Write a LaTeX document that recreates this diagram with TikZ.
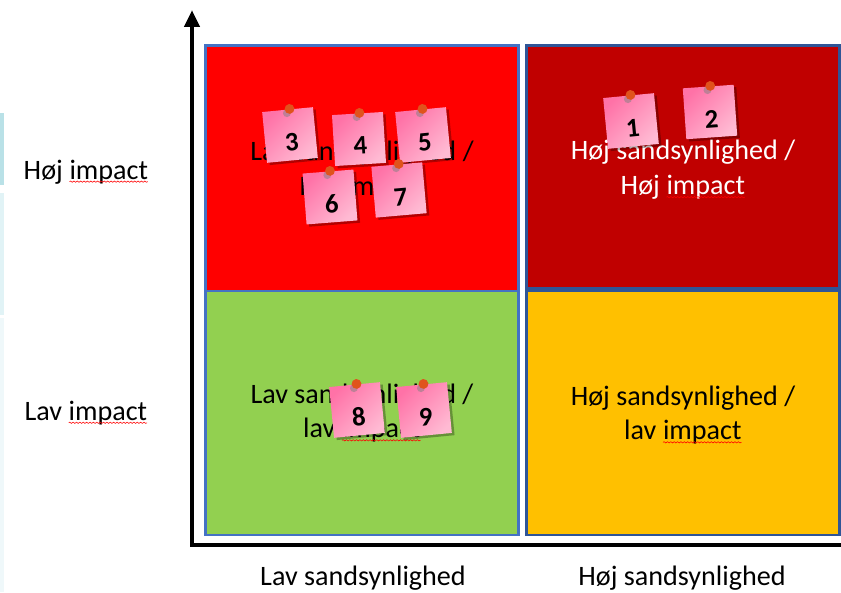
\documentclass[tikz,border=0pt]{standalone}
\usepackage{fontspec}
\setmainfont{Carlito}
\usetikzlibrary{arrows.meta, decorations.pathmorphing}

\definecolor{hotred}{HTML}{FF0000}
\definecolor{darkred}{HTML}{C00000}
\definecolor{lightgreen}{HTML}{92D050}
\definecolor{amber}{HTML}{FFC000}
\definecolor{edgeblue}{HTML}{4472C4}
\definecolor{edgenavy}{HTML}{2F5597}
\definecolor{notedark}{HTML}{FF72A7}
\definecolor{notelight}{HTML}{FFBAD3}
\definecolor{pinred}{HTML}{E0531C}
\definecolor{stripa}{HTML}{B9E1E7}
\definecolor{stripb}{HTML}{E1F3F6}
\definecolor{stripc}{HTML}{EFF8FA}

% red spell-check wave under a word
\newcommand{\wavy}[1]{\tikz[baseline=(w.base)]{\node[inner sep=0pt,outer sep=0pt] (w) {#1};
  \draw[red, line width=.4pt, decorate, decoration={snake, amplitude=.45pt, segment length=2.4pt}]
    ([yshift=-1.7pt]w.base west) -- ([yshift=-1.7pt]w.base east);}}

\tikzset{
  quadtext/.style={align=center, font=\fontsize{20}{24.8}\selectfont},
  axislabel/.style={font=\fontsize{20}{24}\selectfont, inner sep=0pt},
  notenum/.style={font=\fontsize{19}{22}\selectfont\bfseries, inner sep=0pt, transform shape},
}

\begin{document}
\begin{tikzpicture}[x=0.025cm, y=0.025cm]
  \useasboundingbox (0,0) rectangle (841,592);
  % faint strips at the left edge
  \fill[stripa] (0,407) rectangle (4,479);
  \fill[stripb] (0,277) rectangle (4,399);
  \fill[stripc] (0,0) rectangle (4,274);

  % the four boxes
  \filldraw[fill=hotred, draw=edgeblue, line width=2.1pt] (205.5,546.5) rectangle (518.5,301);
  \filldraw[fill=lightgreen, draw=edgeblue, line width=2.1pt] (205.5,301) rectangle (518.5,57);
  \filldraw[fill=darkred, draw=edgenavy, line width=2.1pt] (526.5,546.5) rectangle (839.5,303.5);
  \filldraw[fill=amber, draw=edgenavy, line width=2.1pt] (526.5,301.5) rectangle (839.5,57);

  \node[quadtext] (tl) at (362,421) {Lav \wavy{sandsynlighed} /\\Høj \wavy{impact}};
  \node[quadtext, text=white] (tr) at (683,422) {Høj sandsynlighed /\\Høj \wavy{impact}};
  \node[quadtext] (bl) at (362,179) {Lav sandsynlighed /\\lav \wavy{impact}};
  \node[quadtext] (br) at (683,177) {Høj sandsynlighed /\\lav \wavy{impact}};

  % axes
  \coordinate (origin) at (192,47);
  \coordinate (top) at (192,582);
  \coordinate (right) at (841,47);
  \draw[line width=3.3pt, -{Triangle[width=10.5pt,length=12pt]}] (right) -- (origin) -- (top);

  \node[axislabel] (hi) at (86,420) {Høj \wavy{impact}};
  \node[axislabel] (lo) at (86,179) {Lav \wavy{impact}};
  \node[axislabel] (lp) at (363,14) {Lav sandsynlighed};
  \node[axislabel] (hp) at (682,14) {Høj sandsynlighed};

  % sticky notes: number/x/y/tilt
  \foreach \n/\x/\y/\ang in {1/631/471/5.5, 2/710/480/4, 3/290/457/5.5, 4/359/453/3.5, 5/423/457/5.5,
                            6/330/395/4.5, 7/399/402/5, 8/357/182/5.5, 9/424/182/5.5} {
    \begin{scope}[shift={(\x,\y)}, rotate=\ang]
      \fill[black, opacity=.3] (-23,-28) rectangle (28,23);
      \shade[top color=notedark, bottom color=notelight, shading angle=45] (-25.5,-25.5) rectangle (25.5,25.5);
      \node[notenum] (note\n) at (1,-7) {\n};
      \fill[black!50, opacity=.5] (-1,22) circle (2.8pt);
      \fill[pinred] (2,26) circle (3.5pt);
    \end{scope}
  }
\end{tikzpicture}
\end{document}
